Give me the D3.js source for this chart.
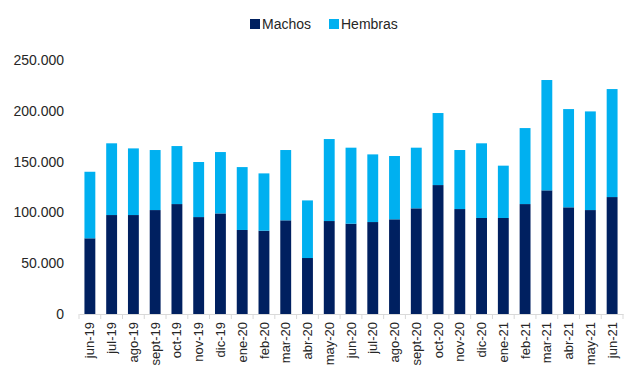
<!DOCTYPE html>
<html lang="es">
<head>
    <meta charset="UTF-8">
    <title>Machos y Hembras</title>
    <script src="https://cdn.jsdelivr.net/npm/d3@7"></script>
    <style>
        body { margin: 0; background: #fff; }
        text { font-family: "Liberation Sans", Arial, sans-serif; fill: #262626; }
    </style>
</head>
<body>
    <div id="chart"></div>
    <script>
        // datos
        const months = ["jun-19","jul-19","ago-19","sept-19","oct-19","nov-19","dic-19","ene-20","feb-20","mar-20","abr-20","may-20","jun-20","jul-20","ago-20","sept-20","oct-20","nov-20","dic-20","ene-21","feb-21","mar-21","abr-21","may-21","jun-21"];
        const machos = [74500, 97400, 97400, 102300, 108200, 95400, 99000, 82700, 82000, 92200, 55100, 91500, 88900, 90500, 93200, 104000, 126900, 103300, 94500, 94500, 108200, 121700, 105000, 102300, 115100];
        const totals = [140000, 168000, 163000, 161400, 165300, 149600, 159400, 144600, 138400, 161400, 111800, 172200, 163700, 157100, 155500, 163700, 197800, 161400, 168000, 146000, 183000, 230300, 201700, 199400, 221400];
        const hembras = totals.map((t, i) => t - machos[i]);
        const yTicks = [0, 50000, 100000, 150000, 200000, 250000];
        const seriesNames = ["Machos", "Hembras"];
        const colors = ["#002060", "#00B0F0"];

        const W = 644, H = 386;
        const margin = { top: 60, right: 21, bottom: 72, left: 79 };
        const width = W - margin.left - margin.right;
        const height = H - margin.top - margin.bottom;

        const svg = d3.select("#chart").append("svg")
            .attr("width", W).attr("height", H);
        const g = svg.append("g").attr("transform", `translate(${margin.left},${margin.top})`);

        const x = d3.scaleBand().domain(months).range([0, width]).paddingInner(0.5).paddingOuter(0.25);
        const y = d3.scaleLinear().domain([0, 250000]).range([height, 0]);

        const table = months.map((m, i) => ({ month: m, Machos: machos[i], Hembras: hembras[i] }));
        const stacked = d3.stack().keys(seriesNames)(table);

        g.selectAll(".serie")
            .data(stacked)
            .enter().append("g")
            .attr("fill", (d, i) => colors[i])
            .selectAll("rect")
            .data(d => d)
            .enter().append("rect")
            .attr("x", d => x(d.data.month))
            .attr("width", x.bandwidth())
            .attr("y", d => y(d[1]))
            .attr("height", d => y(d[0]) - y(d[1]));

        // eje Y (solo etiquetas)
        const fmt = v => v === 0 ? "0" : d3.format(",")(v).replace(/,/g, ".");
        g.selectAll(".ylab")
            .data(yTicks)
            .enter().append("text")
            .attr("x", -15)
            .attr("y", d => y(d))
            .attr("dy", "0.35em")
            .attr("text-anchor", "end")
            .style("font-size", "14px")
            .text(fmt);

        // eje X
        const xAxis = g.append("g")
            .attr("transform", `translate(0,${height})`)
            .call(d3.axisBottom(x).tickSize(0).tickPadding(0));
        xAxis.select(".domain").attr("stroke", "#d9d9d9");
        xAxis.selectAll(".tick text").remove();
        // marcas entre categorías
        const step = x.step();
        g.selectAll(".xtick")
            .data(d3.range(months.length + 1))
            .enter().append("line")
            .attr("x1", i => i * step).attr("x2", i => i * step)
            .attr("y1", height).attr("y2", height + 5)
            .attr("stroke", "#d9d9d9");

        g.selectAll(".xlab")
            .data(months)
            .enter().append("text")
            .attr("transform", d => `translate(${x(d) + x.bandwidth() / 2},${height + 8}) rotate(-90)`)
            .attr("dy", "0.35em")
            .attr("text-anchor", "end")
            .style("font-size", "13px")
            .text(d => d);

        // leyenda
        const legend = svg.append("g");
        const legendX = [250, 329];
        seriesNames.forEach((s, i) => {
            legend.append("rect")
                .attr("x", legendX[i]).attr("y", 19)
                .attr("width", 10).attr("height", 10)
                .attr("fill", colors[i]);
            legend.append("text")
                .attr("x", legendX[i] + 12).attr("y", 24)
                .attr("dy", "0.35em")
                .style("font-size", "14px")
                .text(s);
        });
    </script>
</body>
</html>
